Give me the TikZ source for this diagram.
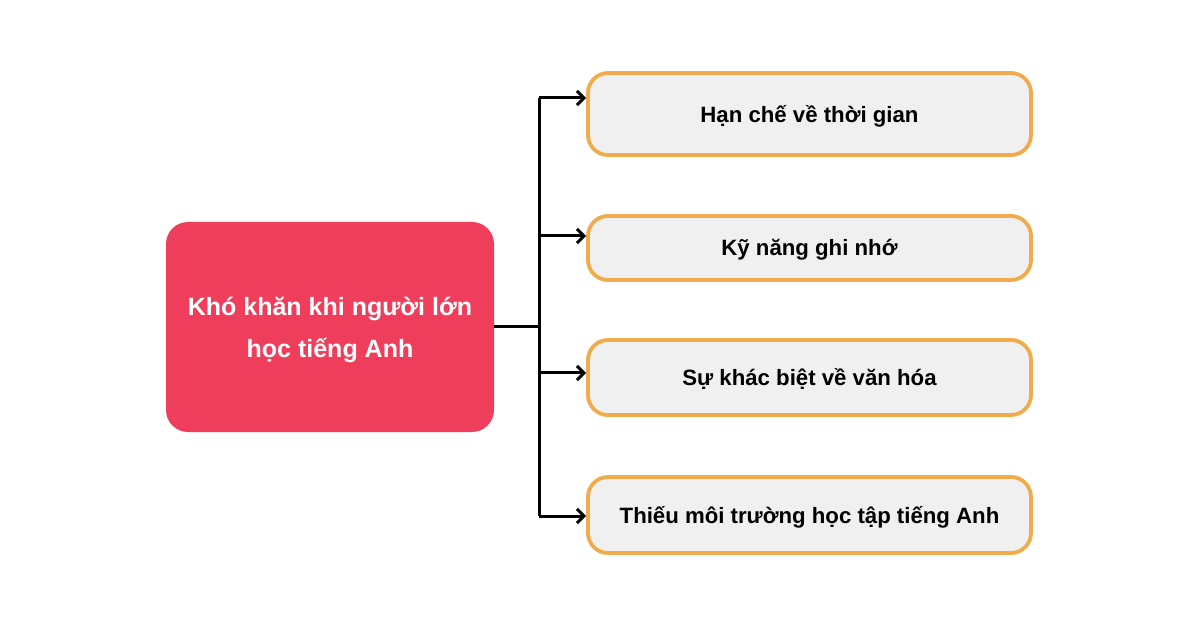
\documentclass[tikz,border=0pt]{standalone}
\usepackage{fontspec}
\setmainfont{Liberation Sans}
\usetikzlibrary{arrows.meta}
\definecolor{mainred}{HTML}{EF3E5B}
\definecolor{boxorange}{HTML}{F0AC4C}
\definecolor{boxfill}{HTML}{F0F0F0}
\begin{document}
\begin{tikzpicture}[x=1pt,y=-1pt,
  mainbox/.style={fill=mainred, rounded corners=22pt, minimum width=328pt, minimum height=210pt, inner sep=0pt,
    text=white, font=\bfseries\fontsize{25}{42}\selectfont, align=center, text depth=-3pt},
  itembox/.style={draw=boxorange, line width=3.8pt, fill=boxfill, rounded corners=20pt, minimum width=443pt,
    inner sep=0pt, font=\bfseries\fontsize{22.2}{26}\selectfont, text=black, text depth=0.5pt},
  conn/.style={line width=3pt, black},
  arr/.style={conn, -{Straight Barb[length=7pt,width=14pt,line width=3pt]}}]
\useasboundingbox (0,0) rectangle (1200,628);
\fill[white] (0,0) rectangle (1200,628);
\node[mainbox] (main) at (330,327) {Khó khăn khi người lớn\\học tiếng Anh};
\node[itembox, minimum height=82pt] (b1) at (809.5,114) {Hạn chế về thời gian};
\node[itembox, minimum height=64pt] (b2) at (809.5,248) {Kỹ năng ghi nhớ};
\node[itembox, minimum height=75pt] (b3) at (809.5,377.5) {Sự khác biệt về văn hóa};
\node[itembox, minimum height=76pt] (b4) at (809.5,515) {Thiếu môi trường học tập tiếng Anh};
\coordinate (j1) at (539,98);
\coordinate (j2) at (539,236);
\coordinate (j3) at (539,373);
\coordinate (j4) at (539,516);
\draw[conn] (main.east) -- (main.east -| j1);
\draw[conn] (j1) -- (j4);
\draw[arr] (j1) -- (j1 -| b1.west);
\draw[arr] (j2) -- (j2 -| b2.west);
\draw[arr] (j3) -- (j3 -| b3.west);
\draw[arr] (j4) -- (j4 -| b4.west);
\end{tikzpicture}
\end{document}
